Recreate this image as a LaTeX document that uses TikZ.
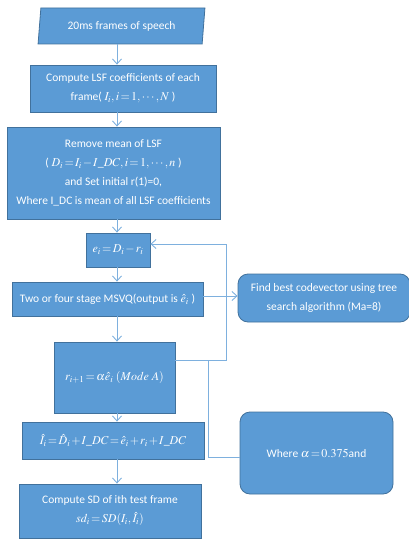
\documentclass[tikz,border=0pt]{standalone}
\usepackage{mathptmx}
\usepackage[no-math]{fontspec}
\setmainfont{Carlito}
\usepackage{tikz}
\usetikzlibrary{shapes.geometric,arrows.meta,positioning}
\definecolor{boxfill}{HTML}{5B9BD5}
\definecolor{boxline}{HTML}{41719C}
\definecolor{flowline}{HTML}{7EB0DE}
\newcommand{\eqn}[1]{{\fontsize{12}{19}\selectfont\thickmuskip=2mu\medmuskip=1.5mu$#1$}}
\tikzset{
x=1pt, y=-1pt, % pixel grid of the scan, y grows downwards
block/.style={draw=boxline, fill=boxfill, text=white, align=center, inner sep=2pt, line width=0.8pt},
roundblock/.style={block, rounded corners=10pt},
iobox/.style={block, trapezium, trapezium left angle=82, trapezium right angle=98, trapezium stretches=true},
flow/.style={draw=flowline, line width=0.9pt, -{Straight Barb[length=5pt,width=9pt]}},
link/.style={draw=flowline, line width=0.9pt},
}

\begin{document}
\begin{tikzpicture}[font=\fontsize{11.5}{19}\selectfont]
   \useasboundingbox (0,0) rectangle (409,540);
   \node[iobox, minimum width=167pt, minimum height=36pt] (speech) at (121.5,26) {20ms frames of speech};
   \node[block, minimum width=186pt, minimum height=47pt] (lsf) at (123,88.5) {Compute LSF coefficients of each\\ frame( \eqn{I_i, i=1,\cdots,N} )};
   \node[block, minimum width=213pt, minimum height=92pt] (mean) at (113.5,173) {Remove mean of LSF\\ ( \eqn{D_i=I_i-I\_DC, i=1,\cdots,n} )\\ and Set initial r(1)=0,\\ Where I\_DC is mean of all LSF coefficients};
   \node[block, minimum width=64pt, minimum height=34pt] (err) at (118,250) {\eqn{e_i=D_i-r_i}};
   \node[block, minimum width=191pt, minimum height=34pt] (msvq) at (107.5,299) {Two or four stage MSVQ(output is \eqn{\hat{e}_i} )};
   \node[roundblock, minimum width=172pt, minimum height=48pt] (tree) at (324,298) {Find best codevector using tree\\ search algorithm (Ma=8)};
   \node[block, minimum width=121pt, minimum height=71pt] (pred) at (114.5,377.5) {\eqn{r_{i+1}=\alpha\hat{e}_i\ (Mode\ A)}};
   \node[roundblock, minimum width=153pt, minimum height=82pt] (alpha) at (316.5,453) {Where \eqn{\alpha=0.375}and};
   \node[block, minimum width=182pt, minimum height=37pt] (recon) at (113,440.5) {\eqn{\hat{I}_i=\hat{D}_i+I\_DC=\hat{e}_i+r_i+I\_DC}};
   \node[block, minimum width=182pt, minimum height=54pt] (sd) at (110,511) {Compute SD of ith test frame\\ \eqn{sd_i=SD(I_i,\hat{I}_i)}};
   % main column of arrows
   \coordinate (spine) at (117,0);
   \path (speech.south -| spine) edge[flow] (lsf.north -| spine)
     (lsf.south -| spine) edge[flow] (mean.north -| spine)
     (mean.south -| spine) edge[flow] (err.north -| spine)
     (err.south -| spine) edge[flow] (msvq.north -| spine)
     (msvq.south -| spine) edge[flow] (pred.north -| spine)
     (pred.south -| spine) edge[flow] (recon.north -| spine)
     (recon.south -| spine) edge[flow] (sd.north -| spine);
   \draw[flow] (msvq.east |- 0,296) -- (tree.west |- 0,296);
   % feedback of the prediction
   \coordinate (fbdown) at (226,360);
   \coordinate (fbup) at (226,244);
   \coordinate (tap) at (208,360);
   \coordinate (tapend) at (208,457);
   \draw[flow] (pred.east |- fbdown) -- (fbdown) -- (fbup) -- (err.east |- fbup);
   \draw[link] (tap) -- (tapend) -- (alpha.west |- tapend);
\end{tikzpicture}
\end{document}
